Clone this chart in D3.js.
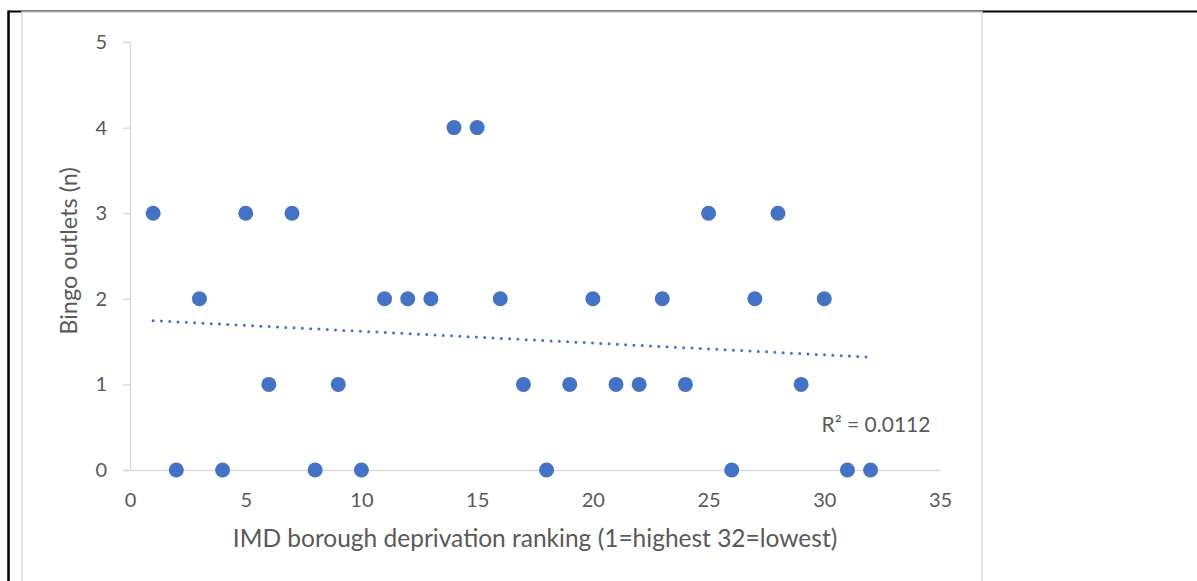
<!DOCTYPE html>
<html>
<head>
<meta charset="utf-8">
<script src="https://cdn.jsdelivr.net/npm/d3@7"></script>
<style>
  html, body { margin: 0; padding: 0; background: #fff; }
  svg { display: block; }
  text { font-family: Lato, "Open Sans", sans-serif; fill: #595959; }
</style>
</head>
<body>
<svg id="chart" width="1197" height="581"></svg>
<script>
// Borough deprivation rank vs number of bingo outlets
const ranks   = [1,2,3,4,5,6,7,8,9,10,11,12,13,14,15,16,17,18,19,20,21,22,23,24,25,26,27,28,29,30,31,32];
const outlets = [3,0,2,0,3,1,3,0,1,0,2,2,2,4,4,2,1,0,1,2,1,1,2,1,3,0,2,3,1,2,0,0];
const xTicks = [0,5,10,15,20,25,30,35];
const yTicks = [0,1,2,3,4,5];
const xTitle = "IMD borough deprivation ranking (1=highest 32=lowest)";
const yTitle = "Bingo outlets (n)";
const rSquaredLabel = "R² = 0.0112";

const svg = d3.select("#chart");
const axisColor = "#d9d9d9";
const dotColor = "#4472C4";

// page frame (table border) and chart area border
svg.append("line").attr("x1", 8.5).attr("x2", 1197).attr("y1", 11.5).attr("y2", 11.5)
  .attr("stroke", "#000").attr("stroke-width", 2);
svg.append("line").attr("x1", 8.5).attr("x2", 8.5).attr("y1", 10.5).attr("y2", 581)
  .attr("stroke", "#000").attr("stroke-width", 2.5);
svg.append("rect").attr("x", 22).attr("y", 12).attr("width", 960).attr("height", 600)
  .attr("fill", "#fff").attr("stroke", axisColor).attr("stroke-width", 1.5);

const x = d3.scaleLinear().domain([0, 35]).range([130, 940]);
const y = d3.scaleLinear().domain([0, 5]).range([470, 42]);

// y axis: line with outward ticks
const yAxis = svg.append("g").attr("transform", `translate(${x(0)},0)`)
  .call(d3.axisLeft(y).tickValues(yTicks).tickSize(7).tickPadding(16).tickFormat(d3.format("d")));
yAxis.select(".domain").attr("stroke", axisColor).attr("stroke-width", 1.3);
yAxis.selectAll(".tick line").attr("stroke", axisColor).attr("stroke-width", 1.3);
yAxis.selectAll("text").style("font-size", "20px").attr("fill", "#595959");

// x axis: line only, labels below
const xAxis = svg.append("g").attr("transform", `translate(0,${y(0)})`)
  .call(d3.axisBottom(x).tickValues(xTicks).tickSize(0).tickPadding(23).tickFormat(d3.format("d")));
xAxis.select(".domain").attr("stroke", axisColor).attr("stroke-width", 1.3);
xAxis.selectAll("text").style("font-size", "20px").attr("fill", "#595959");

// linear trendline fitted by least squares
const mx = d3.mean(ranks), my = d3.mean(outlets);
let sxy = 0, sxx = 0;
ranks.forEach((r, i) => { sxy += (r - mx) * (outlets[i] - my); sxx += (r - mx) ** 2; });
const slope = sxy / sxx, intercept = my - slope * mx;
const xExt = d3.extent(ranks);
svg.append("line")
  .attr("x1", x(xExt[0])).attr("y1", y(intercept + slope * xExt[0]))
  .attr("x2", x(xExt[1])).attr("y2", y(intercept + slope * xExt[1]))
  .attr("stroke", dotColor).attr("stroke-width", 3)
  .attr("stroke-linecap", "round").attr("stroke-dasharray", "0 8.3");

// points
svg.append("g").selectAll("circle").data(ranks).join("circle")
  .attr("cx", d => x(d)).attr("cy", (d, i) => y(outlets[i]))
  .attr("r", 7.5).attr("fill", dotColor);

// R² label
svg.append("text").attr("x", 876).attr("y", 432).attr("text-anchor", "middle")
  .style("font-size", "21px").text(rSquaredLabel);

// axis titles
svg.append("text").attr("x", 535).attr("y", 547).attr("text-anchor", "middle")
  .style("font-size", "24.5px").text(xTitle);
svg.append("text").attr("transform", "translate(77,251) rotate(-90)").attr("text-anchor", "middle")
  .style("font-size", "23.5px").text(yTitle);
</script>
</body>
</html>
